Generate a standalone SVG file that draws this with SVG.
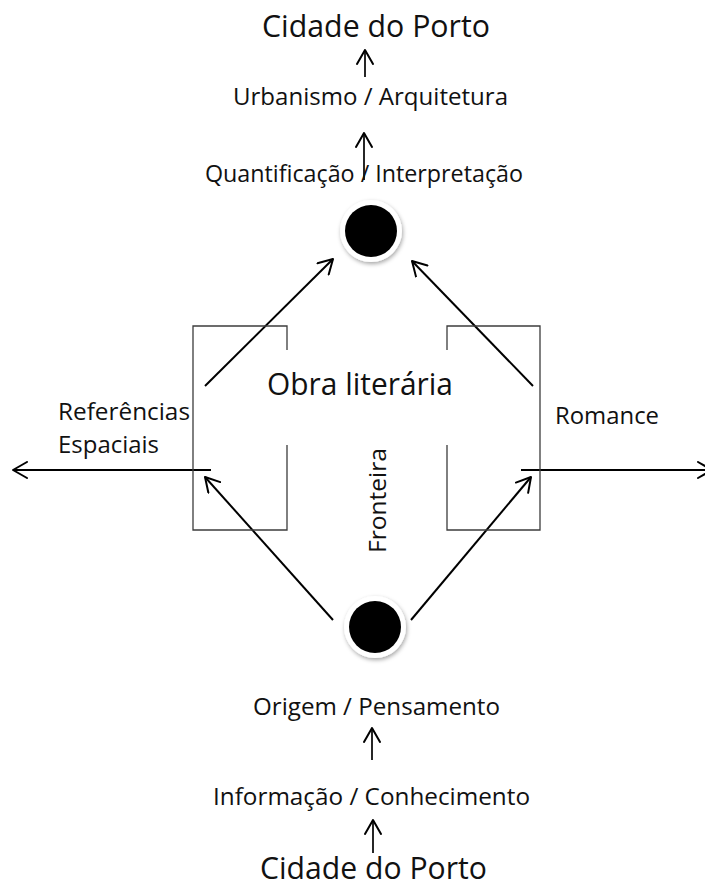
<svg xmlns="http://www.w3.org/2000/svg" width="705" height="888" viewBox="0 0 705 888">
<style>
text{font-family:"Open Sans","Noto Sans","Liberation Sans",sans-serif;fill:#111;}
.big{font-size:31px;}
.sm{font-size:24.5px;}
.box{fill:none;stroke:#3c3c3c;stroke-width:1.3;}
.arr{fill:none;stroke:#000;stroke-width:2;marker-end:url(#ah);}
.varr{fill:none;stroke:#000;stroke-width:1.7;marker-end:url(#ah);}
</style>
<defs>
<marker id="ah" viewBox="0 0 16 18" refX="15" refY="9" markerWidth="16" markerHeight="18" markerUnits="userSpaceOnUse" orient="auto">
<path d="M1,1 L15,9 L1,17" fill="none" stroke="#000" stroke-width="2" stroke-linecap="round" stroke-linejoin="round"/>
</marker>
<filter id="sh" x="-30%" y="-30%" width="160%" height="160%">
<feDropShadow dx="1" dy="2" stdDeviation="2" flood-color="#000" flood-opacity="0.35"/>
</filter>
</defs>
<rect width="705" height="888" fill="#fff"/>

<g id="connectors">
<line class="varr" x1="365" y1="77" x2="365" y2="50"/>
<line class="varr" x1="364" y1="180" x2="364" y2="133"/>
<line class="varr" x1="372" y1="760" x2="372" y2="728"/>
<line class="varr" x1="373" y1="853" x2="373" y2="820"/>
<line class="arr" x1="205" y1="386" x2="333" y2="259"/>
<line class="arr" x1="533" y1="386" x2="412" y2="261"/>
<line class="arr" x1="333" y1="620" x2="205" y2="477"/>
<line class="arr" x1="411" y1="620" x2="531" y2="477"/>
<line class="arr" x1="211" y1="470" x2="13" y2="470"/>
<line class="arr" x1="521" y1="470" x2="712" y2="470"/>
</g>

<g id="box-left">
<path class="box" d="M287,350 L287,326 L193,326 L193,530 L287,530 L287,445"/>
</g>
<g id="box-right">
<path class="box" d="M447,350 L447,326 L540,326 L540,530 L447,530 L447,445"/>
</g>

<g id="circle-top">
<circle cx="371" cy="231" r="31" fill="#fff" filter="url(#sh)"/>
<circle cx="371" cy="231" r="26" fill="#000"/>
</g>
<g id="circle-bottom">
<circle cx="375" cy="627" r="31" fill="#fff" filter="url(#sh)"/>
<circle cx="375" cy="627" r="26" fill="#000"/>
</g>

<g id="title-top"><text class="big" x="262" y="37" textLength="228" lengthAdjust="spacingAndGlyphs">Cidade do Porto</text></g>
<g id="urbanismo"><text class="sm" x="233" y="105" textLength="275" lengthAdjust="spacingAndGlyphs">Urbanismo / Arquitetura</text></g>
<g id="quantificacao"><text class="sm" x="205" y="182" textLength="318" lengthAdjust="spacingAndGlyphs">Quantificação / Interpretação</text></g>
<g id="obra"><text class="big" x="267" y="395" textLength="186" lengthAdjust="spacingAndGlyphs">Obra literária</text></g>
<g id="referencias">
<text class="sm" x="58" y="420" textLength="132" lengthAdjust="spacingAndGlyphs">Referências</text>
<text class="sm" x="58" y="453" textLength="101" lengthAdjust="spacingAndGlyphs">Espaciais</text>
</g>
<g id="romance"><text class="sm" x="555" y="424" textLength="104" lengthAdjust="spacingAndGlyphs">Romance</text></g>
<g id="fronteira"><text class="sm" transform="translate(386,553) rotate(-90)" x="0" y="0" textLength="105" lengthAdjust="spacingAndGlyphs">Fronteira</text></g>
<g id="origem"><text class="sm" x="253" y="715" textLength="247" lengthAdjust="spacingAndGlyphs">Origem / Pensamento</text></g>
<g id="informacao"><text class="sm" x="213" y="805" textLength="317" lengthAdjust="spacingAndGlyphs">Informação / Conhecimento</text></g>
<g id="title-bottom"><text class="big" x="260" y="879" textLength="227" lengthAdjust="spacingAndGlyphs">Cidade do Porto</text></g>
</svg>
